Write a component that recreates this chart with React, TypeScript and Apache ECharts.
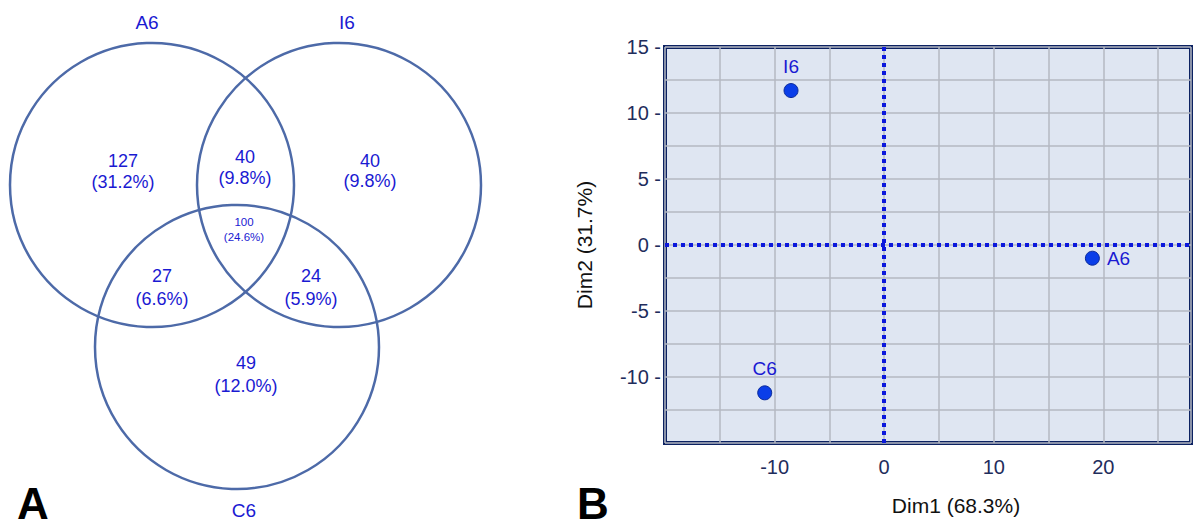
import React, { useEffect, useRef } from "react";
import * as echarts from "echarts";

// ---- Venn diagram data (panel A) ----
const setNames = ["A6", "I6", "C6"];
const regionNames = ["A6 only", "I6 only", "C6 only", "A6∩I6", "A6∩C6", "I6∩C6", "A6∩I6∩C6"];
const regionCounts = [127, 40, 49, 40, 27, 24, 100];
const regionPercents = ["31.2%", "9.8%", "12.0%", "9.8%", "6.6%", "5.9%", "24.6%"];

// ---- PCA scatter data (panel B) ----
const sampleNames = ["I6", "C6", "A6"];
const dim1Values = [-8.5, -10.9, 19.0];
const dim2Values = [11.7, -11.2, -1.0];
const xAxisName = "Dim1 (68.3%)";
const yAxisName = "Dim2 (31.7%)";
const panelLetters = ["A", "B"];

// ---- layout (positions / styles only) ----
const circleLayout = [
  { cx: 152, cy: 185, r: 142 },
  { cx: 339, cy: 185, r: 142 },
  { cx: 237, cy: 347, r: 142 },
];
const setLabelPos = [
  [147, 22],
  [347, 22],
  [244, 510],
];
const regionPos = [
  [123, 161, 182, 18],
  [370, 161, 181, 18],
  [246, 363, 386, 18],
  [245, 157, 178, 18],
  [162, 276, 299, 18],
  [311, 276, 299, 18],
  [244, 222, 237, 11.5],
];
const letterPos = [
  [33, 503],
  [593, 503],
];
const labelPositions = ["top", "top", "right"];

const FONT = '"Liberation Sans", Arial, sans-serif';
const BLUE_TEXT = "#1a1ad2";
const CIRCLE_COLOR = "#4d6aa8";

function centeredText(x: number, y: number, text: string, font: string, fill: string) {
  return {
    type: "text",
    x,
    y,
    style: {
      text,
      fill,
      font,
      align: "center",
      verticalAlign: "middle",
      textAlign: "center",
      textVerticalAlign: "middle",
    },
  };
}

export default function App() {
  const ref = useRef<HTMLDivElement>(null);

  useEffect(() => {
    if (!ref.current) return;
    const chart = echarts.init(ref.current, null, { renderer: "svg" });

    const graphics: any[] = [];
    circleLayout.forEach((c) => {
      graphics.push({
        type: "circle",
        shape: { cx: c.cx, cy: c.cy, r: c.r },
        style: { fill: "none", stroke: CIRCLE_COLOR, lineWidth: 2.5 },
        silent: true,
      });
    });
    setNames.forEach((n, i) => {
      graphics.push(centeredText(setLabelPos[i][0], setLabelPos[i][1], n, `19px ${FONT}`, BLUE_TEXT));
    });
    regionNames.forEach((_, i) => {
      const [x, y1, y2, fs] = regionPos[i];
      graphics.push(centeredText(x, y1, String(regionCounts[i]), `${fs}px ${FONT}`, BLUE_TEXT));
      graphics.push(centeredText(x, y2, `(${regionPercents[i]})`, `${fs}px ${FONT}`, BLUE_TEXT));
    });
    panelLetters.forEach((l, i) => {
      graphics.push(centeredText(letterPos[i][0], letterPos[i][1], l, `bold 44px ${FONT}`, "#000"));
    });

    const option: any = {
      animation: false,
      backgroundColor: "#ffffff",
      textStyle: { fontFamily: FONT },
      grid: {
        left: 665,
        top: 47,
        width: 526,
        height: 396,
        show: true,
        backgroundColor: "#dfe6f2",
        borderColor: "#0c2262",
        borderWidth: 4,
      },
      xAxis: {
        type: "value",
        min: -20,
        max: 28,
        interval: 5,
        name: xAxisName,
        nameLocation: "middle",
        nameGap: 52,
        nameTextStyle: { fontSize: 21, color: "#111", fontFamily: FONT, padding: [0, 0, 0, 56] },
        axisLine: { show: false },
        axisTick: { show: false },
        axisLabel: {
          fontSize: 20,
          color: "#1f2d5c",
          fontFamily: FONT,
          margin: 14,
          showMinLabel: false,
          showMaxLabel: false,
          formatter: (v: number) => (v % 10 === 0 && v > -20 ? String(v) : ""),
        },
        splitLine: { show: true, lineStyle: { color: "#b5b9c2", width: 1.5 } },
      },
      yAxis: {
        type: "value",
        min: -15,
        max: 15,
        interval: 2.5,
        name: yAxisName,
        nameLocation: "middle",
        nameGap: 70,
        nameTextStyle: { fontSize: 21, color: "#111", fontFamily: FONT },
        axisLine: { show: false },
        axisTick: { show: false },
        axisLabel: {
          fontSize: 20,
          color: "#1f2d5c",
          fontFamily: FONT,
          margin: 4,
          formatter: (v: number) => (v % 5 === 0 && v > -15 ? `${v} -` : ""),
        },
        splitLine: { show: true, lineStyle: { color: "#b5b9c2", width: 1.5 } },
      },
      series: [
        {
          type: "scatter",
          symbolSize: 14,
          itemStyle: { color: "#0a3ee8", borderColor: "#0a2a9a", borderWidth: 1, opacity: 1 },
          label: {
            show: true,
            formatter: "{b}",
            color: BLUE_TEXT,
            fontSize: 19,
            fontFamily: FONT,
            distance: 7,
          },
          data: sampleNames.map((n, i) => ({
            name: n,
            value: [dim1Values[i], dim2Values[i]],
            label: { position: labelPositions[i] },
          })),
          markLine: {
            silent: true,
            symbol: ["none", "none"],
            label: { show: false },
            lineStyle: { color: "#0b18dc", width: 4, type: [4, 4] },
            data: [{ xAxis: 0 }, { yAxis: 0 }],
          },
          z: 3,
        },
      ],
      graphic: graphics,
    };

    chart.setOption(option);
    return () => chart.dispose();
  }, []);

  return (
    <div
      ref={ref}
      style={{ position: "fixed", left: 0, top: 0, width: 1193, height: 529, background: "#fff" }}
    />
  );
}
